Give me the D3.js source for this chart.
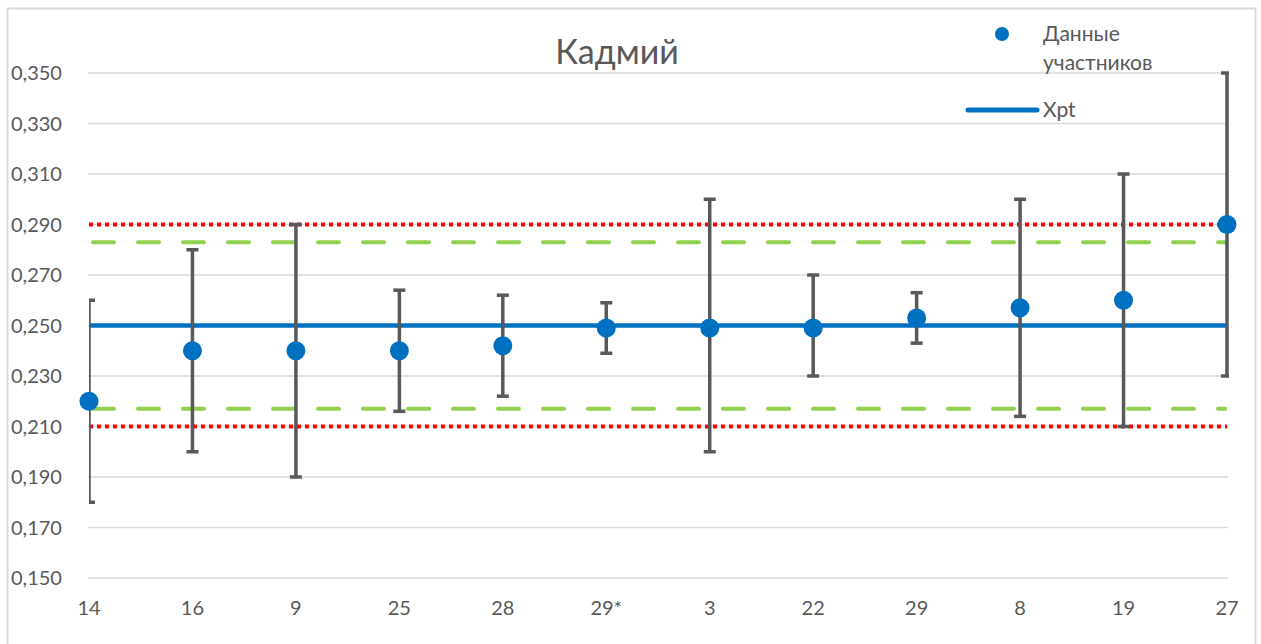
<!DOCTYPE html>
<html><head><meta charset="utf-8">
<script src="https://cdn.jsdelivr.net/npm/d3@7"></script>
<style>body{margin:0;background:#fff}svg{display:block}text{font-family:Lato,"Open Sans",sans-serif}</style>
</head><body>
<script>
const categories = ["14","16","9","25","28","29*","3","22","29","8","19","27"];
const values = [0.220,0.240,0.240,0.240,0.242,0.249,0.249,0.249,0.253,0.257,0.260,0.290];
const errLow = [0.180,0.200,0.190,0.216,0.222,0.239,0.200,0.230,0.243,0.214,0.210,0.230];
const errHigh = [0.260,0.280,0.290,0.264,0.262,0.259,0.300,0.270,0.263,0.300,0.310,0.350];
const xpt = 0.250;
const greenLimits = [0.217,0.283];
const redLimits = [0.210,0.290];
const yTicks = [0.150,0.170,0.190,0.210,0.230,0.250,0.270,0.290,0.310,0.330,0.350];

const W=1261,H=644;
const svg=d3.select("body").append("svg").attr("width",W).attr("height",H);
svg.append("rect").attr("x",7.5).attr("y",8.5).attr("width",1248).attr("height",640).attr("fill","#fff").attr("stroke","#d9d9d9").attr("stroke-width",2);

const x0=89,x1=1227;
const x=d3.scalePoint().domain(categories).range([x0,x1]);
const y=d3.scaleLinear().domain([0.150,0.350]).range([578,73]);

// gridlines
svg.append("g").selectAll("line").data(yTicks).join("line")
 .attr("x1",88).attr("x2",1228).attr("y1",d=>y(d)).attr("y2",d=>y(d))
 .attr("stroke","#d9d9d9").attr("stroke-width",1.5);

// y labels
const fmt=d=>d3.format(".3f")(d).replace(".",",");
svg.append("g").selectAll("text").data(yTicks).join("text")
 .attr("x",11).attr("y",d=>y(d)).attr("dy","0.35em")
 .attr("fill","#595959").attr("font-size",20).text(fmt);
// x labels
svg.append("g").selectAll("text").data(categories).join("text")
 .attr("x",d=>x(d)).attr("y",608).attr("dy","0.35em").attr("text-anchor","middle")
 .attr("fill","#595959").attr("font-size",20).text(d=>d);

svg.append("defs").append("clipPath").attr("id","clip").append("rect")
 .attr("x",x0).attr("y",0).attr("width",x1-x0+2).attr("height",H);
const plot=svg.append("g").attr("clip-path","url(#clip)");

// red dotted limits
plot.append("g").selectAll("line").data(redLimits).join("line")
 .attr("x1",x0).attr("x2",x1).attr("y1",d=>y(d)).attr("y2",d=>y(d))
 .attr("stroke","#ff0000").attr("stroke-width",4).attr("stroke-dasharray","4 4");
// green dashed
plot.append("g").selectAll("line").data(greenLimits).join("line")
 .attr("x1",x0+4).attr("x2",x1-2).attr("y1",d=>y(d)).attr("y2",d=>y(d))
 .attr("stroke","#92d050").attr("stroke-width",4).attr("stroke-linecap","round")
 .attr("stroke-dasharray","21 24");
// xpt
plot.append("line").attr("x1",x0).attr("x2",x1).attr("y1",y(xpt)).attr("y2",y(xpt))
 .attr("stroke","#0070c0").attr("stroke-width",4.5);

// error bars
const eb=plot.append("g").attr("stroke","#595959").attr("stroke-width",3.5);
categories.forEach((c,i)=>{
  const cx=x(c);
  eb.append("line").attr("x1",cx).attr("x2",cx).attr("y1",y(errLow[i])).attr("y2",y(errHigh[i]));
  eb.append("line").attr("x1",cx-6).attr("x2",cx+6).attr("y1",y(errLow[i])).attr("y2",y(errLow[i]));
  eb.append("line").attr("x1",cx-6).attr("x2",cx+6).attr("y1",y(errHigh[i])).attr("y2",y(errHigh[i]));
});
// points
svg.append("g").selectAll("circle").data(categories).join("circle")
 .attr("cx",d=>x(d)).attr("cy",(d,i)=>y(values[i])).attr("r",9.5).attr("fill","#0070c0");

// title
svg.append("text").attr("x",617).attr("y",52).attr("dy","0.35em").attr("text-anchor","middle")
 .attr("fill","#595959").attr("font-size",34).text("Кадмий");

// legend
svg.append("circle").attr("cx",1002).attr("cy",34).attr("r",7).attr("fill","#0070c0");
svg.append("text").attr("x",1043).attr("y",34).attr("dy","0.35em").attr("fill","#595959").attr("font-size",21).text("Данные");
svg.append("text").attr("x",1043).attr("y",63).attr("dy","0.35em").attr("fill","#595959").attr("font-size",21).text("участников");
svg.append("line").attr("x1",968).attr("x2",1037).attr("y1",110).attr("y2",110).attr("stroke","#0070c0").attr("stroke-width",5).attr("stroke-linecap","round");
svg.append("text").attr("x",1043).attr("y",110).attr("dy","0.35em").attr("fill","#595959").attr("font-size",21).text("Xpt");
</script>
</body></html>
